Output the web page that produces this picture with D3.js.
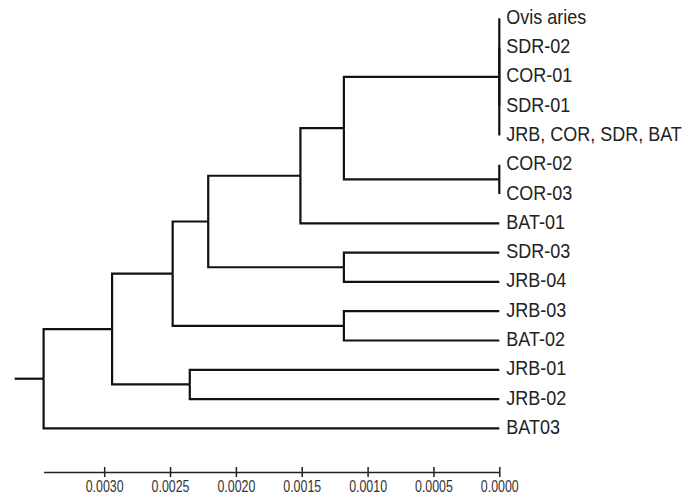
<!DOCTYPE html>
<html>
<head>
<meta charset="utf-8">
<script src="https://cdn.jsdelivr.net/npm/d3@7"></script>
<style>
    body { margin: 0; background: #fff; }
    svg { display: block; }
    .leaf { font-family: "Liberation Sans", Arial, sans-serif; font-size: 18px; fill: #222; }
    .axis text { font-family: "Liberation Sans", Arial, sans-serif; font-size: 15.5px; fill: #333; }
</style>
</head>
<body>
<svg id="tree"></svg>
<script>
"use strict";

const width = 690;
const height = 497;

// leaves, top to bottom
const leaves = [
    "Ovis aries", "SDR-02", "COR-01", "SDR-01", "JRB, COR, SDR, BAT",
    "COR-02", "COR-03", "BAT-01", "SDR-03", "JRB-04",
    "JRB-03", "BAT-02", "JRB-01", "JRB-02", "BAT03"
];

// internal nodes: ids 15.. in this order; children refer to leaf / node ids
const merge_children = [
    [0, 1, 2, 3, 4],   // 15
    [5, 6],            // 16
    [15, 16],          // 17
    [17, 7],           // 18
    [8, 9],            // 19
    [18, 19],          // 20
    [10, 11],          // 21
    [20, 21],          // 22
    [12, 13],          // 23
    [22, 23],          // 24
    [24, 14]           // 25 root
];
const merge_heights = [0, 0, 0.00118, 0.00151, 0.00118, 0.00221, 0.00118, 0.00248, 0.00235, 0.00294, 0.00346];
const root_branch = 0.00022;

const tick_values = [0.0030, 0.0025, 0.0020, 0.0015, 0.0010, 0.0005, 0.0000];

// the original picture is a little taller than wide, so text is stretched
const text_stretch = 1.15;

function buildNode(id) {
    if (id < leaves.length) {
        return { name: leaves[id], h: 0 };
    }
    const k = id - leaves.length;
    return { h: merge_heights[k], children: merge_children[k].map(buildNode) };
}

const rootH = merge_heights[merge_heights.length - 1];

const x_scale = d3.scaleLinear()
    .domain([rootH, 0])
    .range([43.6, 499.3]);

const root = d3.hierarchy(buildNode(leaves.length + merge_children.length - 1));

// vertical placement: fixed leaf step, parents centred on children
const leaf_step = 29.29;
const top_y = 18.3;

d3.cluster()
    .nodeSize([leaf_step, 1])
    .separation(() => 1)(root);

const shift = top_y - root.leaves()[0].x;

const svg = d3.select("#tree")
    .attr("width", width)
    .attr("height", height);

const px = d => x_scale(d.data.h);
const py = d => d.x + shift;

// branches
svg.append("g")
    .selectAll("path")
    .data(root.links())
    .enter()
    .append("path")
    .attr("d", l => `M${px(l.source)},${py(l.source)}V${py(l.target)}H${px(l.target)}`)
    .attr("fill", "none")
    .attr("stroke", "#111")
    .attr("stroke-width", 2.2);

// root stub
svg.append("path")
    .attr("d", `M${x_scale(rootH + root_branch)},${py(root)}H${px(root)}`)
    .attr("stroke", "#111")
    .attr("stroke-width", 2.2);

// leaf labels
svg.append("g")
    .selectAll("text")
    .data(root.leaves())
    .enter()
    .append("text")
    .attr("class", "leaf")
    .attr("transform", d => `translate(${px(d) + 7}, ${py(d) + 5.5}) scale(1, ${text_stretch})`)
    .text(d => d.data.name);

// scale axis
const axis = svg.append("g")
    .attr("class", "axis")
    .attr("transform", "translate(0, 472)")
    .call(
        d3.axisBottom(x_scale)
            .tickValues(tick_values)
            .tickFormat(d3.format(".4f"))
            .tickSizeOuter(0)
    );

axis.select(".domain")
    .attr("stroke", "#222")
    .attr("stroke-width", 1.5);

axis.selectAll(".tick line")
    .attr("y1", -5)
    .attr("y2", 5)
    .attr("stroke", "#222")
    .attr("stroke-width", 1.5);

// condensed tick labels, as in the original
axis.selectAll(".tick text")
    .attr("y", 0)
    .attr("dy", 0)
    .attr("transform", "translate(0, 20) scale(0.8, 1.11)");
</script>
</body>
</html>
